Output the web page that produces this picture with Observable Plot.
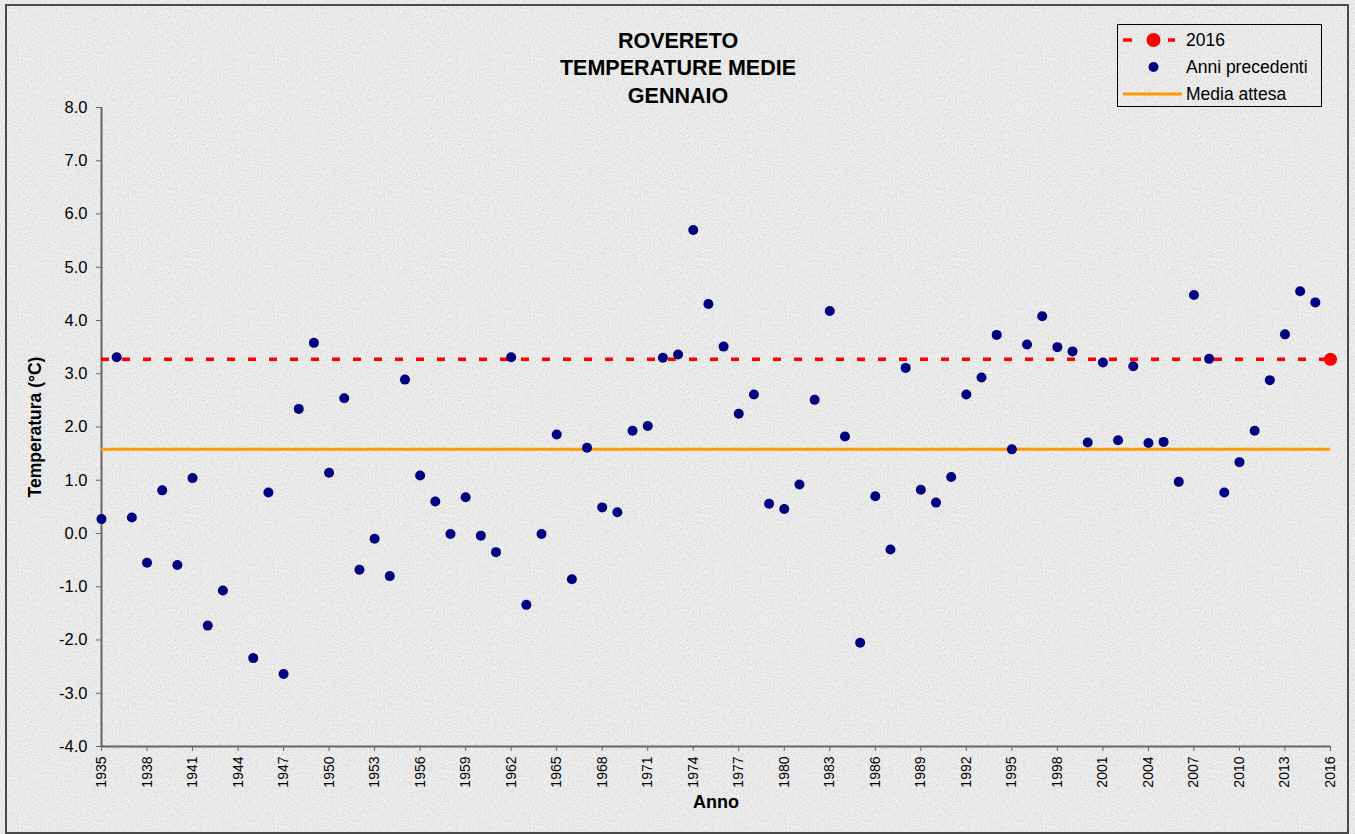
<!DOCTYPE html>
<html>
<head>
<meta charset="utf-8">
<script src="https://cdn.jsdelivr.net/npm/d3@7"></script>
<script src="https://cdn.jsdelivr.net/npm/@observablehq/plot@0.6"></script>
<style>
  html, body { margin: 0; padding: 0; }
  body { width: 1355px; height: 834px; overflow: hidden; font-family: "Liberation Sans", Arial, sans-serif; }
  #wrap {
    position: relative; width: 1355px; height: 834px;
    background-color: #efefef;
    background-image: url("data:image/svg+xml;utf8,<svg xmlns='http://www.w3.org/2000/svg' width='256' height='256'><filter id='n'><feTurbulence type='fractalNoise' baseFrequency='0.75' numOctaves='3' stitchTiles='stitch'/><feColorMatrix type='matrix' values='0 0 0 0 0.6  0 0 0 0 0.6  0 0 0 0 0.6  1.8 0 0 0 -0.75'/></filter><rect width='100%' height='100%' filter='url(%23n)'/></svg>");
  }
  #frame { position: absolute; left: 5px; top: 4px; width: 1340px; height: 826px; border: 2px solid #4a4a4a; pointer-events: none; }
  #chart { position: absolute; left: 0; top: 0; }
  #legend {
    position: absolute; left: 1117px; top: 24px; width: 203px; height: 81px;
    border: 1px solid #000; font-size: 17.5px; color: #000;
  }
  #legend .row { position: absolute; left: 0; height: 20px; width: 203px; }
  #legend .row span { position: absolute; left: 68px; top: 0; line-height: 20px; white-space: nowrap; }
  #legend svg { position: absolute; left: 0; top: 0; }
</style>
</head>
<body>
<div id="wrap">
  <div id="chart"></div>
  <div id="legend">
    <div class="row" style="top:5px">
      <svg width="66" height="20"><line x1="5" x2="14" y1="10" y2="10" stroke="#ff0000" stroke-width="3.5"/><circle cx="35.5" cy="10" r="7" fill="#ff0000"/><line x1="50" x2="57" y1="10" y2="10" stroke="#ff0000" stroke-width="3.5"/></svg>
      <span>2016</span>
    </div>
    <div class="row" style="top:32px">
      <svg width="66" height="20"><circle cx="35.5" cy="10" r="5" fill="#000080"/></svg>
      <span>Anni precedenti</span>
    </div>
    <div class="row" style="top:59px">
      <svg width="66" height="20"><line x1="5" x2="64" y1="10" y2="10" stroke="#ff9900" stroke-width="3"/></svg>
      <span>Media attesa</span>
    </div>
  </div>
  <div id="frame"></div>
</div>
<script>
// ---- data ----
const years = [
  1935, 1936, 1937, 1938, 1939, 1940, 1941, 1942, 1943, 1945,
  1946, 1947, 1948, 1949, 1950, 1951, 1952, 1953, 1954, 1955,
  1956, 1957, 1958, 1959, 1960, 1961, 1962, 1963, 1964, 1965,
  1966, 1967, 1968, 1969, 1970, 1971, 1972, 1973, 1974, 1975,
  1976, 1977, 1978, 1979, 1980, 1981, 1982, 1983, 1984, 1985,
  1986, 1987, 1988, 1989, 1990, 1991, 1992, 1993, 1994, 1995,
  1996, 1997, 1998, 1999, 2000, 2001, 2002, 2003, 2004, 2005,
  2006, 2007, 2008, 2009, 2010, 2011, 2012, 2013, 2014, 2015
];
const temps = [
  0.27, 3.31, 0.30, -0.55, 0.81, -0.59, 1.04, -1.73, -1.07, -2.34,
  0.77, -2.64, 2.34, 3.58, 1.14, 2.54, -0.68, -0.10, -0.80, 2.89,
  1.09, 0.60, -0.01, 0.68, -0.04, -0.35, 3.31, -1.34, -0.01, 1.86,
  -0.86, 1.61, 0.49, 0.40, 1.93, 2.02, 3.30, 3.36, 5.70, 4.31,
  3.51, 2.25, 2.61, 0.56, 0.46, 0.92, 2.51, 4.18, 1.82, -2.05,
  0.70, -0.30, 3.11, 0.82, 0.58, 1.06, 2.61, 2.93, 3.73, 1.58,
  3.55, 4.08, 3.50, 3.42, 1.71, 3.21, 1.75, 3.14, 1.70, 1.72,
  0.97, 4.48, 3.28, 0.77, 1.34, 1.93, 2.88, 3.74, 4.55, 4.34
];
const currentYear = [2016];
const currentTemp = [3.27];
const mediaAttesa = [1.58];
const xTicks = d3.range(1935, 2017, 3);
const yTicks = d3.range(-4, 9, 1);
const titleLines = ["ROVERETO", "TEMPERATURE MEDIE", "GENNAIO"];

const past = years.map((y, i) => ({anno: y, t: temps[i]}));
const current = currentYear.map((y, i) => ({anno: y, t: currentTemp[i]}));
const titleOffsets = [-66.5, -39.5, -11.5];

const chart = Plot.plot({
  width: 1355,
  height: 834,
  marginLeft: 101,
  marginRight: 25,
  marginTop: 107,
  marginBottom: 88,
  style: {background: "transparent", fontFamily: "'Liberation Sans', Arial, sans-serif", fontSize: "16px", color: "#000", overflow: "visible"},
  x: {domain: [1935, 2016]},
  y: {domain: [-4, 8]},
  marks: [
    Plot.axisY({ticks: yTicks, tickFormat: d => d.toFixed(1), tickSize: 5, tickPadding: 9, label: null, stroke: "#666", fontSize: 16.5}),
    Plot.axisX({ticks: xTicks, tickFormat: d => String(d), tickRotate: -90, tickSize: 5, tickPadding: 5, label: null, stroke: "#666", fontSize: 14}),
    Plot.ruleX([1935], {stroke: "#666", strokeWidth: 2}),
    Plot.ruleY([-4], {stroke: "#666", strokeWidth: 2}),
    Plot.ruleY(mediaAttesa, {stroke: "#ff9900", strokeWidth: 3}),
    Plot.ruleY(currentTemp, {stroke: "#ff0000", strokeWidth: 3.5, strokeDasharray: "8,13"}),
    Plot.dot(past, {x: "anno", y: "t", r: 5, fill: "#000080"}),
    Plot.dot(current, {x: "anno", y: "t", r: 6.5, fill: "#ff0000"}),
    Plot.text(["Temperatura (°C)"], {frameAnchor: "left", dx: -66, rotate: -90, textAnchor: "middle", fontWeight: "bold", fontSize: 17.5, fill: "#000"}),
    Plot.text(["Anno"], {frameAnchor: "bottom", dy: 61, fontWeight: "bold", fontSize: 18, fill: "#000"}),
    ...titleLines.map((t, i) => Plot.text([t], {frameAnchor: "top", dx: -38, dy: titleOffsets[i], fontWeight: "bold", fontSize: 21.5, fill: "#000", lineAnchor: "middle"}))
  ]
});
document.getElementById("chart").appendChild(chart);
</script>
</body>
</html>
